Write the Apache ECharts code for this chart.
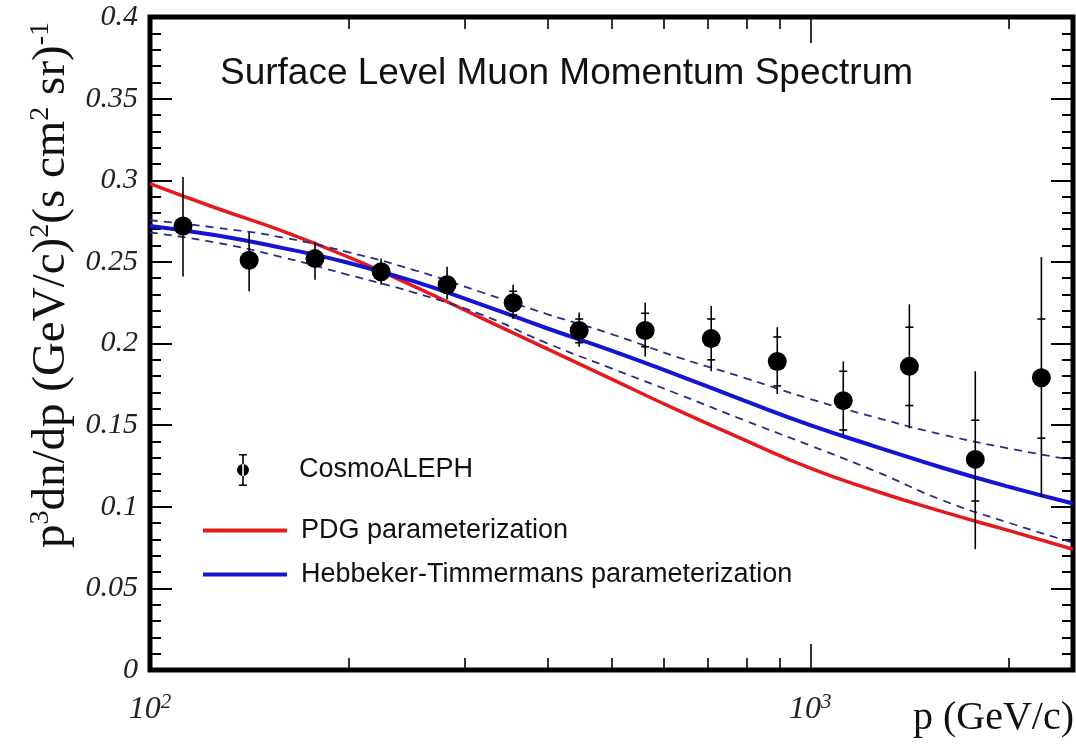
<!DOCTYPE html>
<html>
<head>
<meta charset="utf-8">
<script src="https://cdn.jsdelivr.net/npm/echarts@6/dist/echarts.min.js"></script>
<style>
  html, body { margin: 0; padding: 0; background: #fff; }
  #chart { width: 1076px; height: 746px; }
</style>
</head>
<body>
<div id="chart"></div>
<script>
// CosmoALEPH measurement: momentum (GeV/c), p^3 dN/dp, total and statistical error bounds
const pMomentum = [112.2, 141.3, 177.8, 223.9, 281.8, 354.8, 446.7, 562.3, 707.9, 891.3, 1122, 1413, 1778, 2239];
const fluxMeas  = [0.272, 0.251, 0.252, 0.244, 0.236, 0.225, 0.208, 0.208, 0.203, 0.189, 0.165, 0.186, 0.129, 0.179];
const totalLow  = [0.241, 0.232, 0.239, 0.236, 0.227, 0.215, 0.198, 0.192, 0.183, 0.169, 0.144, 0.148, 0.074, 0.106];
const totalHigh = [0.302, 0.268, 0.262, 0.252, 0.247, 0.236, 0.219, 0.225, 0.223, 0.210, 0.189, 0.224, 0.183, 0.253];
const statLow   = [0.268, 0.247, 0.248, 0.240, 0.232, 0.2175, 0.2005, 0.198, 0.190, 0.174, 0.147, 0.162, 0.1035, 0.142];
const statHigh  = [0.276, 0.255, 0.256, 0.248, 0.240, 0.232, 0.215, 0.2185, 0.215, 0.204, 0.183, 0.210, 0.153, 0.215];

// Parameterization curves sampled every 0.1 decade in momentum
const curveP   = [100, 125.9, 158.5, 199.5, 251.2, 316.2, 398.1, 501.2, 631, 794.3, 1000, 1259, 1585, 1995, 2500];
const pdgCurve = [0.298, 0.283, 0.269, 0.253, 0.235, 0.216, 0.197, 0.178, 0.159, 0.141, 0.1236, 0.1095, 0.097, 0.0855, 0.074];
const htCurve  = [0.272, 0.2663, 0.2586, 0.2495, 0.238, 0.2241, 0.2095, 0.1955, 0.1805, 0.165, 0.150, 0.1367, 0.1239, 0.1123, 0.102];
const htUpper  = [0.2755, 0.271, 0.265, 0.256, 0.245, 0.2317, 0.2182, 0.2056, 0.1915, 0.179, 0.166, 0.1546, 0.1442, 0.1358, 0.1286];
const htLower  = [0.268, 0.2618, 0.2529, 0.2421, 0.2312, 0.218, 0.2004, 0.1846, 0.169, 0.153, 0.1375, 0.1215, 0.104, 0.0903, 0.078];

// Axis ticks
const xMinorTicks = [200, 300, 400, 500, 600, 700, 800, 900, 2000];
const xMajorTicks = [1000];
const xLabelTicks = [100, 1000];

const SERIF = 'Liberation Serif';
const SANS = 'Liberation Sans';

const pair = (xs, ys) => xs.map((x, i) => [x, ys[i]]);
const errorData = pMomentum.map((p, i) => [p, totalLow[i], totalHigh[i], statLow[i], statHigh[i]]);

function logAxis(position, ticks, len, showLabel) {
  return {
    type: 'log', logBase: 10, min: 100, max: 2500, position: position,
    axisLine: { show: false },
    splitLine: { show: false },
    axisTick: { show: true, inside: true, length: len, customValues: ticks,
                lineStyle: { color: '#000', width: 1.6 } },
    minorTick: { show: false },
    axisLabel: showLabel ? {
      show: true, customValues: xLabelTicks, margin: 22,
      formatter: v => '{b|10}{s|' + Math.round(Math.log10(v)) + '}',
      rich: {
        b: { fontFamily: SERIF, fontStyle: 'italic', fontSize: 32, color: '#222', lineHeight: 36 },
        s: { fontFamily: SERIF, fontStyle: 'italic', fontSize: 21, color: '#222', lineHeight: 20, verticalAlign: 'top' }
      }
    } : { show: false }
  };
}

function linAxis(position, showLabel) {
  return {
    type: 'value', min: 0, max: 0.4, interval: 0.05, position: position,
    axisLine: { show: false },
    splitLine: { show: false },
    axisTick: { show: true, inside: true, length: 22, lineStyle: { color: '#000', width: 2 } },
    minorTick: { show: true, splitNumber: 5, length: 11, lineStyle: { color: '#000', width: 2 } },
    axisLabel: showLabel ? {
      show: true, margin: 12, fontFamily: SERIF, fontStyle: 'italic', fontSize: 30, color: '#222'
    } : { show: false }
  };
}

const legendText = pad => ({ fontFamily: SANS, fontSize: 27, color: '#111', padding: [0, 0, 0, pad] });
const alephIcon = 'path://M2,0H10V1.6H2Z M5.2,0H6.8V32H5.2Z M2,30.4H10V32H2Z M0,16A6,6 0 1,0 12,16A6,6 0 1,0 0,16Z';

const chart = echarts.init(document.getElementById('chart'), null, { renderer: 'canvas' });

chart.setOption({
  backgroundColor: '#fff',
  animation: false,
  title: {
    text: 'Surface Level Muon Momentum Spectrum',
    left: 220, top: 55, padding: 0,
    textStyle: { fontFamily: SANS, fontSize: 37, fontWeight: 'normal', color: '#111' }
  },
  grid: {
    left: 150, right: 3, top: 17, bottom: 76,
    show: true, borderColor: '#000', borderWidth: 5, backgroundColor: 'transparent'
  },
  xAxis: [
    logAxis('bottom', xMinorTicks, 12, true),
    logAxis('bottom', xMajorTicks, 26, false),
    logAxis('top', xMinorTicks, 12, false),
    logAxis('top', xMajorTicks, 26, false)
  ],
  yAxis: [linAxis('left', true), linAxis('right', false)],
  legend: [
    { data: [{ name: 'CosmoALEPH', icon: alephIcon }], left: 237, top: 454, padding: 0,
      itemWidth: 12, itemHeight: 32, selectedMode: false, textStyle: legendText(45) },
    { data: [{ name: 'PDG parameterization', icon: 'rect' }], left: 203, top: 517, padding: 0,
      itemWidth: 84, itemHeight: 4, selectedMode: false, textStyle: legendText(9) },
    { data: [{ name: 'Hebbeker-Timmermans parameterization', icon: 'rect' }], left: 203, top: 561, padding: 0,
      itemWidth: 84, itemHeight: 4, selectedMode: false, textStyle: legendText(9) }
  ],
  graphic: [
    {
      type: 'text', x: 52, y: 285, rotation: Math.PI / 2,
      style: {
        text: '{a|p}{s|3}{a|dn/dp (GeV/c)}{s|2}{a|(s cm}{s|2}{a| sr)}{s|-1}',
        align: 'center', verticalAlign: 'middle', fill: '#111',
        rich: {
          a: { fontFamily: SERIF, fontSize: 47, lineHeight: 50, fill: '#111' },
          s: { fontFamily: SERIF, fontSize: 28, lineHeight: 26, verticalAlign: 'top', fill: '#111' }
        }
      }
    },
    {
      type: 'text', right: 2, top: 698,
      style: { text: 'p (GeV/c)', fontFamily: SERIF, fontSize: 40, fill: '#111' }
    }
  ],
  series: [
    {
      name: 'PDG parameterization', type: 'line', data: pair(curveP, pdgCurve),
      smooth: true, showSymbol: false, color: '#e41a1c',
      lineStyle: { color: '#e41a1c', width: 3.5 }, z: 2
    },
    {
      name: 'HT upper', type: 'line', data: pair(curveP, htUpper),
      smooth: true, showSymbol: false, color: '#2c2c84',
      lineStyle: { color: '#2c2c84', width: 1.8, type: [8, 6] }, z: 2
    },
    {
      name: 'HT lower', type: 'line', data: pair(curveP, htLower),
      smooth: true, showSymbol: false, color: '#2c2c84',
      lineStyle: { color: '#2c2c84', width: 1.8, type: [8, 6] }, z: 2
    },
    {
      name: 'Hebbeker-Timmermans parameterization', type: 'line', data: pair(curveP, htCurve),
      smooth: true, showSymbol: false, color: '#1414d2',
      lineStyle: { color: '#1414d2', width: 4 }, z: 3
    },
    {
      name: 'CosmoALEPH errors', type: 'custom', data: errorData,
      encode: { x: 0, y: [1, 2] }, z: 4,
      renderItem: function (params, api) {
        const p = api.value(0);
        const lo = api.coord([p, api.value(1)]);
        const hi = api.coord([p, api.value(2)]);
        const sLo = api.coord([p, api.value(3)]);
        const sHi = api.coord([p, api.value(4)]);
        const w = 4;
        const st = { stroke: '#000', lineWidth: 1.6 };
        return {
          type: 'group',
          children: [
            { type: 'line', shape: { x1: hi[0], y1: hi[1], x2: lo[0], y2: lo[1] }, style: st },
            { type: 'line', shape: { x1: sHi[0] - w, y1: sHi[1], x2: sHi[0] + w, y2: sHi[1] }, style: st },
            { type: 'line', shape: { x1: sLo[0] - w, y1: sLo[1], x2: sLo[0] + w, y2: sLo[1] }, style: st }
          ]
        };
      }
    },
    {
      name: 'CosmoALEPH', type: 'scatter', data: pair(pMomentum, fluxMeas),
      symbol: 'circle', symbolSize: 19, color: '#000',
      itemStyle: { color: '#000', opacity: 1 }, z: 5
    }
  ]
});
</script>
</body>
</html>
